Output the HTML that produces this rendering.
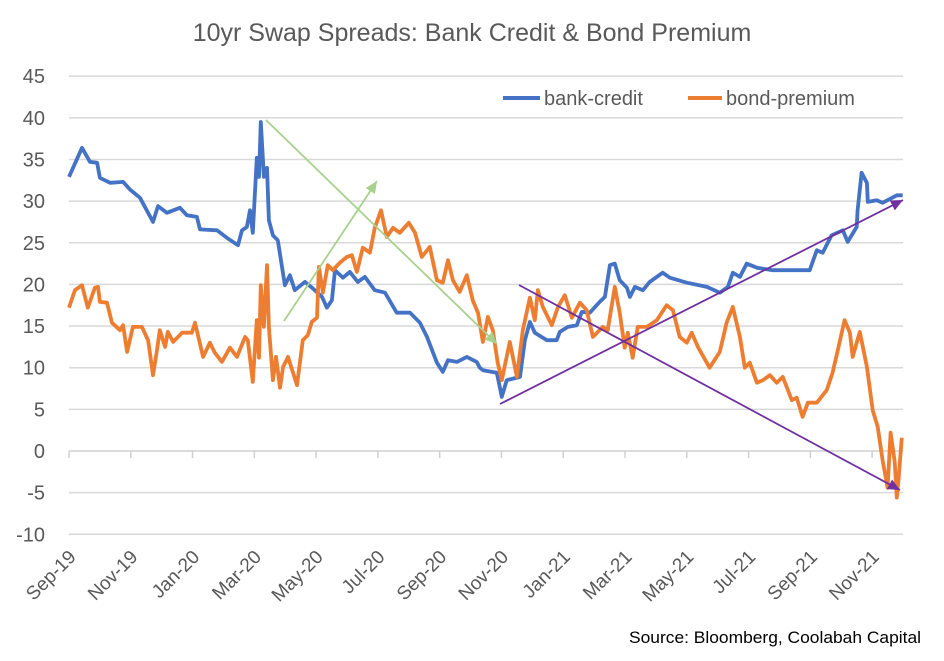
<!DOCTYPE html>
<html><head><meta charset="utf-8"><style>
body{margin:0;background:#fff;width:944px;height:661px;overflow:hidden}
svg{display:block;font-family:"Liberation Sans",sans-serif}
</style></head><body>
<svg id="chart" width="944" height="661">
<text x="472" y="41" text-anchor="middle" font-size="25" fill="#595959">10yr Swap Spreads: Bank Credit &amp; Bond Premium</text>
<g id="grid"></g>
<g id="yaxis"></g>
<g id="xaxis"></g>
<g id="series"></g>
<g id="annot"></g>
<g>
<line x1="503" y1="98" x2="540" y2="98" stroke="#4472C4" stroke-width="4"/>
<text x="544" y="105" font-size="20" fill="#595959">bank-credit</text>
<line x1="688" y1="98" x2="722" y2="98" stroke="#ED7D31" stroke-width="4"/>
<text x="726" y="105" font-size="20" fill="#595959">bond-premium</text>
</g>
<text x="921" y="643" text-anchor="end" font-size="17" fill="#000" textLength="292" lengthAdjust="spacingAndGlyphs">Source: Bloomberg, Coolabah Capital</text>
</svg>
<script>
const yTicks=[45,40,35,30,25,20,15,10,5,0,-5,-10];
const xTickLabels=["Sep-19","Nov-19","Jan-20","Mar-20","May-20","Jul-20","Sep-20","Nov-20","Jan-21","Mar-21","May-21","Jul-21","Sep-21","Nov-21"];
const bankMonths=[0,.42,.68,.91,1.0,1.33,1.75,1.97,2.3,2.72,2.88,3.17,3.59,3.82,4.14,4.24,4.79,5.11,5.47,5.6,5.76,5.86,5.95,6.08,6.15,6.21,6.31,6.41,6.47,6.6,6.76,6.99,7.15,7.31,7.64,7.9,8.19,8.35,8.51,8.61,8.87,9.09,9.35,9.58,9.9,10.23,10.61,11.04,11.36,11.59,11.91,12.1,12.27,12.56,12.88,13.2,13.3,13.4,13.85,14.01,14.17,14.6,14.76,14.92,15.08,15.47,15.79,15.89,16.15,16.44,16.6,16.86,17.18,17.35,17.51,17.67,17.83,18.06,18.16,18.32,18.58,18.8,19.22,19.45,20.0,20.65,21.07,21.33,21.49,21.72,21.94,22.27,22.78,23.33,23.98,24.21,24.4,24.69,25.05,25.21,25.5,25.53,25.66,25.83,25.86,26.15,26.34,26.8,26.99];
const bankValues=[32.9,36.4,34.7,34.6,32.8,32.2,32.3,31.4,30.4,27.5,29.4,28.6,29.2,28.3,28.1,26.6,26.5,25.6,24.7,26.5,26.9,28.9,26.2,35.2,32.9,39.5,32.9,34.0,27.7,25.9,25.3,19.9,21.1,19.3,20.3,19.5,18.5,17.2,18.1,21.7,20.8,21.5,20.3,20.9,19.3,19.0,16.6,16.6,15.4,13.7,10.6,9.5,10.9,10.7,11.3,10.7,10.0,9.7,9.4,6.5,8.5,8.9,13.3,15.5,14.2,13.3,13.3,14.3,14.9,15.1,16.7,16.6,17.9,18.5,22.3,22.5,20.5,19.6,18.5,19.7,19.3,20.3,21.4,20.8,20.2,19.7,19.0,19.7,21.4,20.9,22.5,22.0,21.7,21.7,21.7,24.1,23.8,25.9,26.5,25.1,26.9,28.9,33.4,32.2,29.9,30.1,29.8,30.7,30.7];
const bondMonths=[0,.19,.42,.61,.84,.94,1.0,1.23,1.39,1.65,1.75,1.88,2.07,2.36,2.56,2.72,2.85,2.94,3.11,3.2,3.37,3.66,3.98,4.08,4.34,4.56,4.72,4.95,5.21,5.44,5.7,5.79,5.95,6.08,6.15,6.21,6.31,6.41,6.47,6.6,6.7,6.83,6.93,7.09,7.38,7.57,7.73,7.86,8.03,8.09,8.22,8.38,8.54,8.77,9.0,9.16,9.32,9.51,9.74,9.9,10.1,10.29,10.49,10.71,11.0,11.2,11.42,11.68,11.91,12.1,12.27,12.43,12.65,12.88,13.07,13.24,13.4,13.56,13.72,13.88,14.01,14.27,14.5,14.69,14.92,15.08,15.18,15.34,15.63,15.83,16.05,16.28,16.54,16.76,16.96,17.28,17.44,17.67,17.83,17.99,18.09,18.25,18.41,18.71,19.03,19.35,19.55,19.77,20.0,20.16,20.36,20.74,21.07,21.29,21.49,21.72,21.88,22.04,22.27,22.46,22.69,22.91,23.11,23.4,23.56,23.75,23.92,24.21,24.53,24.72,24.89,25.11,25.28,25.37,25.6,25.83,26.02,26.18,26.34,26.5,26.6,26.73,26.8,26.86,26.96];
const bondValues=[17.2,19.3,19.9,17.2,19.6,19.7,17.9,17.8,15.4,14.5,15.1,11.9,14.9,14.9,13.3,9.1,12.1,14.5,12.5,14.3,13.1,14.2,14.2,15.4,11.3,13.0,11.8,10.7,12.4,11.3,13.7,13.3,8.3,15.7,11.2,19.9,14.9,22.3,14.9,8.5,11.3,7.6,10.1,11.3,7.9,13.3,13.9,15.5,16.0,22.1,19.0,22.3,21.7,22.6,23.3,23.5,21.5,24.4,23.8,26.8,28.9,25.7,26.8,26.2,27.4,26.2,23.3,24.5,20.5,20.2,22.9,20.5,19.1,21.1,18.1,16.6,13.1,16.1,14.5,10.6,8.5,13.1,8.9,14.5,18.4,15.7,19.3,17.3,15.1,17.3,18.7,16.0,17.8,16.9,13.7,14.9,14.5,19.7,16.6,12.4,14.2,11.2,14.9,14.9,15.7,17.5,16.9,13.7,13.0,14.2,12.5,10.0,11.9,15.4,17.3,13.7,10.0,10.6,8.2,8.5,9.1,8.2,8.9,6.1,6.4,4.1,5.8,5.8,7.3,9.4,12.1,15.7,14.2,11.3,14.3,10.1,4.9,2.9,-1.1,-4.4,2.2,-1.3,-5.6,-3.2,1.6];

const X0=69,X1=903,MMAX=27;
const xs=m=>X0+(m/MMAX)*(X1-X0);
const ys=v=>451-v*(83.3/10);
const NS="http://www.w3.org/2000/svg";
function mk(tag,parent,attrs){const e=document.createElementNS(NS,tag);for(const k in attrs)e.setAttribute(k,attrs[k]);parent.appendChild(e);return e;}
const grid=document.getElementById('grid'),ya=document.getElementById('yaxis'),xa=document.getElementById('xaxis'),ser=document.getElementById('series'),an=document.getElementById('annot');
yTicks.forEach(t=>{
  const l=mk('line',grid,{x1:X0,x2:X1,y1:ys(t),y2:ys(t),stroke:t===0?'#d0d0d0':'#d9d9d9','stroke-width':1.5});
  
  
  const tx=mk('text',ya,{x:45,y:ys(t)+7,'text-anchor':'end','font-size':20,fill:'#595959'});
  tx.textContent=t;
  
  
});
xTickLabels.forEach((lab,i)=>{
  const x=xs(i*2);
  const tk=mk('line',xa,{x1:x,x2:x,y1:451,y2:458,stroke:'#d0d0d0','stroke-width':1.5});
  
  
  const ax=x+8,ay=558;
  const tx=mk('text',xa,{x:ax,y:ay,'text-anchor':'end','font-size':19,fill:'#595959',transform:`rotate(-45 ${ax} ${ay})`});
  tx.textContent=lab;
  
  
});
function line(ms,vs,color,name){
  const d=ms.map((m,i)=>(i?'L':'M')+xs(m).toFixed(1)+','+ys(vs[i]).toFixed(1)).join('');
  const p=mk('path',ser,{d:d,fill:'none',stroke:color,'stroke-width':3.8,'stroke-linejoin':'round'});
  
  
}
line(bankMonths,bankValues,'#4472C4','bank-credit-line');
line(bondMonths,bondValues,'#ED7D31','bond-premium-line');
function arrow(x1,y1,x2,y2,color,w,name){
  const l=mk('line',an,{x1:x1,y1:y1,x2:x2,y2:y2,stroke:color,'stroke-width':w});
  
  
  const a=Math.atan2(y2-y1,x2-x1),L=12,W=5.5;
  const bx=x2-L*Math.cos(a),by=y2-L*Math.sin(a);
  const pts=[[x2,y2],[bx+W*Math.sin(a),by-W*Math.cos(a)],[bx-W*Math.sin(a),by+W*Math.cos(a)]].map(p=>p.join(',')).join(' ');
  const h=mk('polygon',an,{points:pts,fill:color});
  
  
}
arrow(266,120,497,344,'#A9D18E',1.8,'green-down-arrow');
arrow(284,321,377,181,'#A9D18E',1.8,'green-up-arrow');
arrow(500,404,903,200,'#7030A0',1.8,'purple-up-arrow');
arrow(519,285,900,490,'#7030A0',1.8,'purple-down-arrow');
</script>
</body></html>
